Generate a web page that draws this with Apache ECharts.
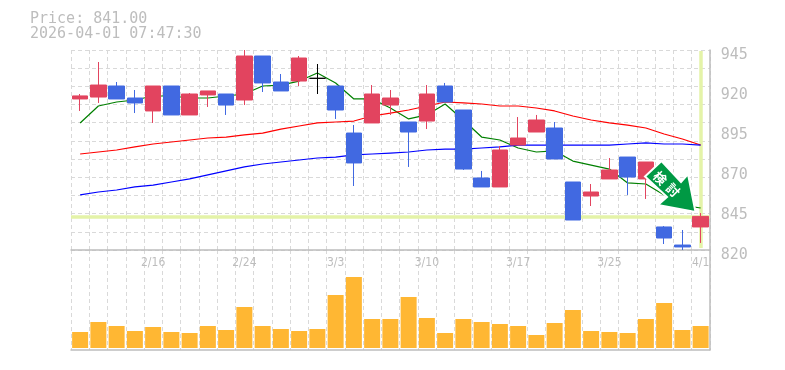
<!DOCTYPE html>
<html>
<head>
<meta charset="utf-8">
<style>html,body{margin:0;padding:0;background:#fff}#c{width:785px;height:370px}</style>
<script src="https://cdn.jsdelivr.net/npm/echarts@6/dist/echarts.min.js"></script>
</head>
<body>
<div id="c"></div>
<script>
const dates = ['2/9','2/10','2/12','2/13','2/16','2/17','2/18','2/19','2/20','2/24','2/25','2/26','2/27','3/2','3/3','3/4','3/5','3/6','3/9','3/10','3/11','3/12','3/13','3/16','3/17','3/18','3/19','3/23','3/24','3/25','3/26','3/27','3/30','3/31','4/1'];
const opens  = [914.4,915.6,922.5,915,906.9,922.5,904.4,916.9,917.5,913.75,941.25,925,925.6,927.3,922.5,893.1,899.4,910.6,900,900.6,922.5,907.5,865,859.4,885.6,893.75,896.25,862.5,853.75,864.4,878.1,864.4,834.4,823.1,834.4];
const closes = [916.3,923.1,914.4,911.9,922.5,904.4,917.5,919.4,910.6,941.25,924.4,919.4,940,927.3,907.5,874.4,917.5,915,893.75,917.5,912.5,870.6,859.4,882.5,890,901.25,876.9,838.75,856.25,870,865.6,875,827.5,821.9,841];
const lows   = [906.9,911.9,914.4,905.6,899.4,904.4,904.4,909.4,904.4,910.6,918.75,919.4,922.5,917.5,901.9,860,899.4,904.4,871.9,895.6,912.5,870,859.4,859.4,885.6,893.75,876.9,838.75,847.5,864.4,854.4,851.9,823.75,820,824.4];
const highs  = [917.5,937.5,925,920,922.5,922.5,918.1,919.4,917.5,945,941.25,930,941.25,936.25,922.5,898.1,923.1,920,900,923.1,924.4,907.5,869.4,885,903.1,904.4,900,862.5,861.25,877.5,878.1,875,835,832.5,843.1];
const maShort = [899.4,910,912.5,913.75,916.25,916.25,915,915,916.25,917.5,922.5,923.1,925.6,930.6,924.4,914.4,914.4,908.75,901.9,904.4,911.25,901.25,890.6,888.75,883.75,881.25,881.9,875.6,873.1,870.6,861.9,861.25,854.4,848.1,846.25];
const maMid = [880,881.25,882.5,884.4,886.25,887.5,888.75,890,890.6,891.9,893.1,895.6,897.5,899.4,900,900.6,903.75,905.6,907.5,910,912.5,911.9,911.25,910,910,908.75,906.9,903.75,901.25,899.4,898.1,896.25,892.5,889.4,885.6];
const maLong = [854.4,856.25,857.5,859.4,860.6,862.5,864.4,866.9,869.4,871.9,873.75,875,876.25,877.5,878.1,879.4,880,880.6,881.25,882.5,883.1,883.1,883.75,884.4,885.6,885.6,885.6,885.6,885.6,885.6,886.25,886.9,886.25,886.25,885.6];
const volumes = [160,260,220,170,210,160,150,220,180,410,220,190,170,190,530,710,290,290,510,300,150,290,260,240,220,130,250,380,170,160,150,290,450,180,220];
const lastPrice = 841;
const titleLines = ['Price: 841.00', '2026-04-01 07:47:30'];
const arrowWords = ['検', '討'];

const RED = '#e2445f', BLUE = '#4169e1', GRAY = '#bdbdbd', GRID = '#d9d9d9', HILITE = '#e4f3a8';
const MONO = '"DejaVu Sans Mono", monospace';
const dashed = { show: true, lineStyle: { color: GRID, type: [4, 3], width: 1 } };
const solid = { show: true, onZero: false, lineStyle: { color: GRAY, width: 1.5 } };

const chart = echarts.init(document.getElementById('c'), null, { renderer: 'canvas' });
const lineSeries = (name, data, color) => ({
  name, type: 'line', data, xAxisIndex: 0, yAxisIndex: 0, z: 2, silent: true,
  symbol: 'none', smooth: false, lineStyle: { color, width: 1.2 }
});
chart.setOption({
  animation: false,
  backgroundColor: '#fff',
  title: {
    text: titleLines.join('\n'), left: 30, top: 12, padding: 0,
    textStyle: { color: GRAY, fontFamily: MONO, fontSize: 15, fontWeight: 'normal', lineHeight: 15 }
  },
  grid: [
    { left: 71, top: 50, width: 638.75, height: 200 },
    { left: 71, top: 250, width: 638.75, height: 100 }
  ],
  xAxis: [
    { type: 'category', gridIndex: 0, data: dates, boundaryGap: true,
      axisLine: solid, axisTick: { show: false }, splitLine: { ...dashed, interval: 0 },
      axisLabel: { interval: (i) => i % 5 === 4, color: GRAY, fontFamily: '"DejaVu Sans Condensed", "DejaVu Sans", sans-serif', fontStretch: 'condensed', fontSize: 12, margin: 7, hideOverlap: false } },
    { type: 'category', gridIndex: 1, data: dates, boundaryGap: true,
      axisLine: solid, axisTick: { show: false }, splitLine: { ...dashed, interval: 0 }, axisLabel: { show: false } }
  ],
  yAxis: [
    { type: 'value', gridIndex: 0, position: 'right', min: 820, max: 945, interval: 25,
      axisLine: { show: true, lineStyle: { color: GRAY, width: 1.5 } }, axisTick: { show: false }, splitLine: { show: false },
      axisLabel: { color: GRAY, fontFamily: MONO, fontSize: 15, margin: 11, verticalAlign: 'top', padding: [-2, 0, 0, 0], showMinLabel: true, showMaxLabel: true } },
    { type: 'value', gridIndex: 0, position: 'left', min: 0, max: 11, interval: 1,
      axisLine: { show: false }, axisTick: { show: false }, axisLabel: { show: false }, splitLine: dashed },
    { type: 'value', gridIndex: 1, position: 'right', min: -20, max: 980,
      axisLine: { show: true, lineStyle: { color: GRAY, width: 1.5 } }, axisTick: { show: false }, axisLabel: { show: false }, splitLine: { show: false } }
  ],
  series: [
    { name: 'hilite', type: 'line', data: [], xAxisIndex: 0, yAxisIndex: 0, z: 1, silent: true,
      markLine: { z: 1, silent: true, symbol: 'none', animation: false, label: { show: false },
        lineStyle: { color: HILITE, width: 3.5, type: 'solid' },
        data: [
          { yAxis: lastPrice },
          [ { xAxis: dates[dates.length - 1], yAxis: 944.4 }, { xAxis: dates[dates.length - 1], yAxis: 821.2 } ]
        ] } },
    lineSeries('short', maShort, '#008000'),
    lineSeries('mid', maMid, '#ff0000'),
    lineSeries('long', maLong, '#0000ff'),
    { name: 'price', type: 'candlestick', xAxisIndex: 0, yAxisIndex: 0, z: 3, silent: true, barWidth: 16,
      data: dates.map((d, i) => [opens[i], closes[i], lows[i], highs[i]]),
      itemStyle: { color: RED, color0: BLUE, borderColor: RED, borderColor0: BLUE, borderColorDoji: '#000000', borderWidth: 1 } },
    { name: 'volume', type: 'bar', xAxisIndex: 1, yAxisIndex: 2, data: volumes, barWidth: 16, silent: true,
      itemStyle: { color: '#ffb733' } }
  ],
  graphic: [
    { type: 'polygon', z: 100, silent: true,
      shape: { points: [[661.5,161],[645,176.5],[667,197],[658,205],[695.5,212],[688,174],[681,182]] },
      style: { fill: '#009944', stroke: '#ffffff', lineWidth: 2, lineJoin: 'miter' } },
    { type: 'text', z: 101, silent: true, x: 660, y: 178, rotation: -Math.PI / 4,
      style: { text: arrowWords[0], fill: '#fff', font: 'bold 13px "Noto Sans CJK JP"', align: 'center', verticalAlign: 'middle' } },
    { type: 'text', z: 101, silent: true, x: 673, y: 190, rotation: -Math.PI / 4,
      style: { text: arrowWords[1], fill: '#fff', font: 'bold 13px "Noto Sans CJK JP"', align: 'center', verticalAlign: 'middle' } }
  ]
});
</script>
</body>
</html>
